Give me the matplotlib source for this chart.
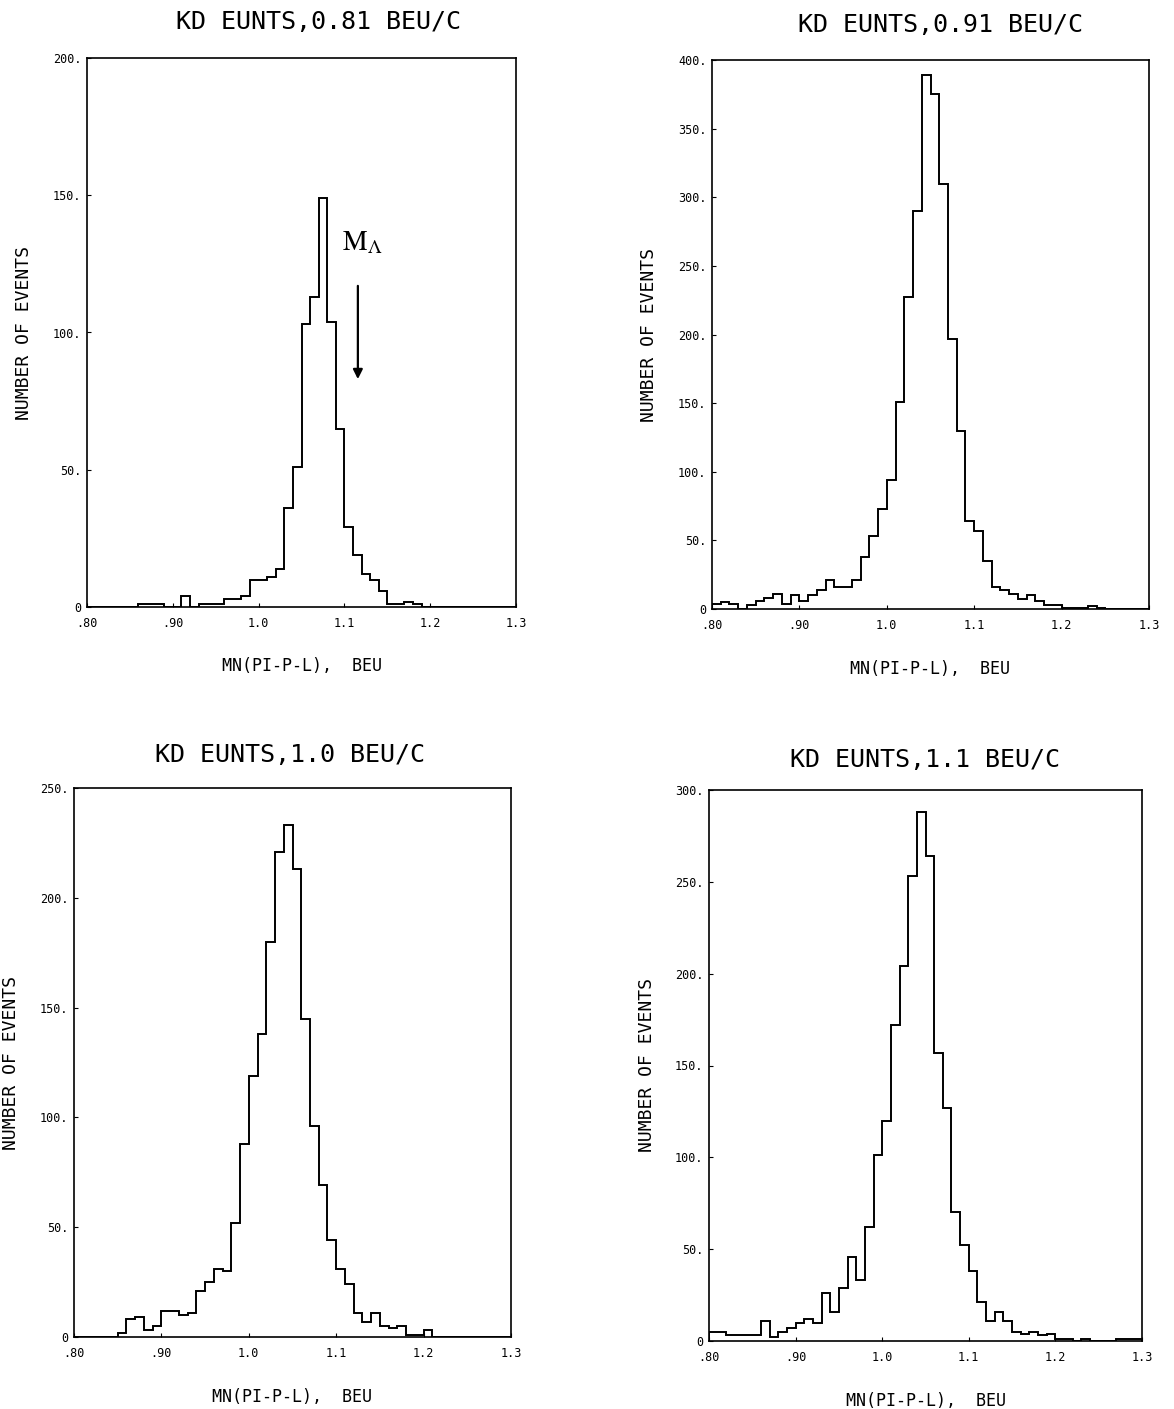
import numpy as np
import matplotlib
matplotlib.use("Agg")
import matplotlib.pyplot as plt

plt.rcParams['font.family'] = ['DejaVu Sans Mono']
plt.rcParams['mathtext.fontset'] = 'stix'

# bins of 0.01 BeV from .80 to 1.30
edges = np.round(np.arange(0.80, 1.3001, 0.01), 2)

# counts per bin
counts_081 = [0, 0, 0, 0, 0, 0, 1, 1, 1, 0,
              0, 4, 0, 1, 1, 1, 3, 3, 4, 10,
              10, 11, 14, 36, 51, 103, 113, 149, 104, 65,
              29, 19, 12, 10, 6, 1, 1, 2, 1, 0,
              0, 0, 0, 0, 0, 0, 0, 0, 0, 0]
counts_091 = [4, 5, 4, 0, 3, 6, 8, 11, 4, 10,
              6, 10, 14, 21, 16, 16, 21, 38, 53, 73,
              94, 151, 227, 290, 389, 375, 310, 197, 130, 64,
              57, 35, 16, 14, 11, 7, 10, 6, 3, 3,
              1, 1, 1, 2, 1, 0, 0, 0, 0, 0]
counts_10 = [0, 0, 0, 0, 0, 2, 8, 9, 3, 5,
             12, 12, 10, 11, 21, 25, 31, 30, 52, 88,
             119, 138, 180, 221, 233, 213, 145, 96, 69, 44,
             31, 24, 11, 7, 11, 5, 4, 5, 1, 1,
             3, 0, 0, 0, 0, 0, 0, 0, 0, 0]
counts_11 = [5, 5, 3, 3, 3, 3, 11, 2, 5, 7,
             10, 12, 10, 26, 16, 29, 46, 33, 62, 101,
             120, 172, 204, 253, 288, 264, 157, 127, 70, 52,
             38, 21, 11, 16, 11, 5, 4, 5, 3, 4,
             1, 1, 0, 1, 0, 0, 0, 1, 1, 1]

titles = ["KD EUNTS,0.81 BEU/C", "KD EUNTS,0.91 BEU/C",
          "KD EUNTS,1.0 BEU/C", "KD EUNTS,1.1 BEU/C"]
ymaxes = [200, 400, 250, 300]
xticks = [0.80, 0.90, 1.0, 1.1, 1.2, 1.3]
xticklabels = [".80", ".90", "1.0", "1.1", "1.2", "1.3"]
all_counts = [counts_081, counts_091, counts_10, counts_11]

# lambda mass marker on first panel
m_lambda = 1.1157

W, H = 1174, 1409
fig = plt.figure(figsize=(W / 100, H / 100), dpi=100)

# axes boxes in pixels: left, right, top, bottom
boxes = [(87, 516, 58, 607), (712, 1149, 60, 609),
         (74, 511, 788, 1337), (709, 1142, 790, 1341)]
title_pos = [(318, 22), (940, 25), (290, 755), (925, 760)]

for i in range(4):
    l, r, t, b = boxes[i]
    ax = fig.add_axes([l / W, 1 - b / H, (r - l) / W, (b - t) / H])
    ax.stairs(all_counts[i], edges, color='black', lw=1.4)
    ax.set_xlim(0.80, 1.30)
    ax.set_ylim(0, ymaxes[i])

    ax.set_xticks(xticks)
    ax.set_xticklabels(xticklabels)
    yt = np.arange(0, ymaxes[i] + 1, 50)
    ax.set_yticks(yt)
    ax.set_yticklabels(["0"] + ["%d." % v for v in yt[1:]])
    ax.tick_params(direction='in', length=3, width=0.8, labelsize=8.5)
    ax.tick_params(axis='x', pad=7)
    ax.tick_params(axis='y', pad=4)
    for sp in ax.spines.values():
        sp.set_linewidth(1.2)

    ax.set_xlabel("MN(PI-P-L),  BEU", fontsize=12, labelpad=20)
    ax.set_ylabel("NUMBER OF EVENTS", fontsize=13, labelpad=14)

    tx, ty = title_pos[i]
    fig.text(tx / W, 1 - ty / H, titles[i], fontsize=18, ha='center', va='center')

    if i == 0:
        ax.annotate('', xy=(m_lambda, 82), xytext=(m_lambda, 118),
                    arrowprops=dict(arrowstyle='-|>', color='black', lw=1.6,
                                    mutation_scale=14))
        ax.text(m_lambda + 0.005, 133, r'$\mathrm{M}_{\Lambda}$', fontsize=20,
                ha='center', va='center')

fig.savefig("out.png", dpi=100)
